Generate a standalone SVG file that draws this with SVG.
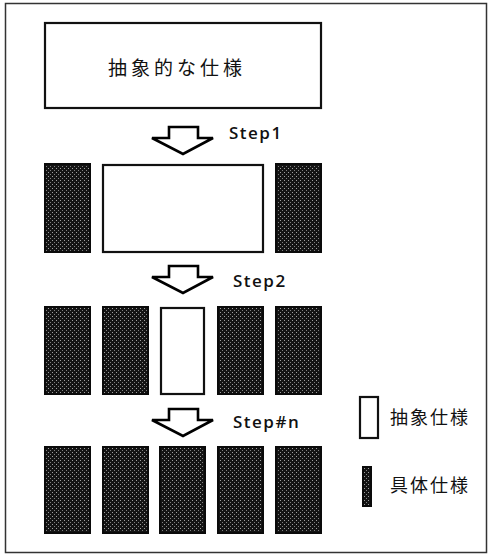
<svg xmlns="http://www.w3.org/2000/svg" width="490" height="556" viewBox="0 0 490 556">
<defs>
<pattern id="stip" width="4" height="4" patternUnits="userSpaceOnUse">
<rect width="4" height="4" fill="#141414"/>
<rect x="0" y="0" width="1" height="1" fill="#a0a0a0"/>
<rect x="2" y="2" width="1" height="1" fill="#808080"/>
</pattern>
<path id="arr" d="M0,0 h29 v11 h15 l-30,16 l-31,-16 h17 z"/>
</defs>
<style>
.frame{fill:#fff;stroke:#333;stroke-width:1.5}
.white{fill:#fff;stroke:#111;stroke-width:2.2}
.dark{fill:url(#stip);stroke:#0a0a0a;stroke-width:2}
.arrow{fill:#fff;stroke:#000;stroke-width:2.6;stroke-linejoin:miter}
.jp{font-family:"Noto Sans CJK JP","Noto Sans CJK SC",sans-serif;fill:#111}
.step{font-family:"Open Sans","Noto Sans",sans-serif;font-weight:600;font-size:17px;letter-spacing:1.5px;fill:#111}
</style>
<rect class="frame" x="5.5" y="3.5" width="481" height="549"/>
<g id="abstract-spec">
<rect class="white" x="45" y="23" width="276" height="85"/>
<text class="jp" x="177" y="75" font-size="19" letter-spacing="4" text-anchor="middle">抽象的な仕様</text>
</g>
<g id="connectors">
<use href="#arr" class="arrow" x="169" y="127"/>
<text class="step" x="229" y="139">Step1</text>
<use href="#arr" class="arrow" x="169" y="266"/>
<text class="step" x="233" y="287">Step2</text>
<use href="#arr" class="arrow" x="169" y="409"/>
<text class="step" x="233" y="428">Step#n</text>
</g>
<g id="row1">
<rect class="dark" x="45" y="164" width="45" height="88"/>
<rect class="white" x="103" y="165" width="160" height="87"/>
<rect class="dark" x="276" y="164" width="45" height="88"/>
</g>
<g id="row2">
<rect class="dark" x="45" y="307" width="45" height="87"/>
<rect class="dark" x="103" y="307" width="45" height="87"/>
<rect class="white" x="161" y="308" width="43" height="86"/>
<rect class="dark" x="218" y="307" width="45" height="87"/>
<rect class="dark" x="276" y="307" width="45" height="87"/>
</g>
<g id="row3">
<rect class="dark" x="45" y="447" width="45" height="86"/>
<rect class="dark" x="103" y="447" width="45" height="86"/>
<rect class="dark" x="160" y="447" width="45" height="86"/>
<rect class="dark" x="218" y="447" width="45" height="86"/>
<rect class="dark" x="276" y="447" width="45" height="86"/>
</g>
<g id="legend-abstract">
<rect class="white" x="360" y="397" width="18" height="41" stroke-width="1.5"/>
<text class="jp" x="390" y="424" font-size="18" letter-spacing="2">抽象仕様</text>
</g>
<g id="legend-concrete">
<rect class="dark" x="363" y="467" width="8" height="39"/>
<text class="jp" x="390" y="492" font-size="18" letter-spacing="2">具体仕様</text>
</g>
</svg>
